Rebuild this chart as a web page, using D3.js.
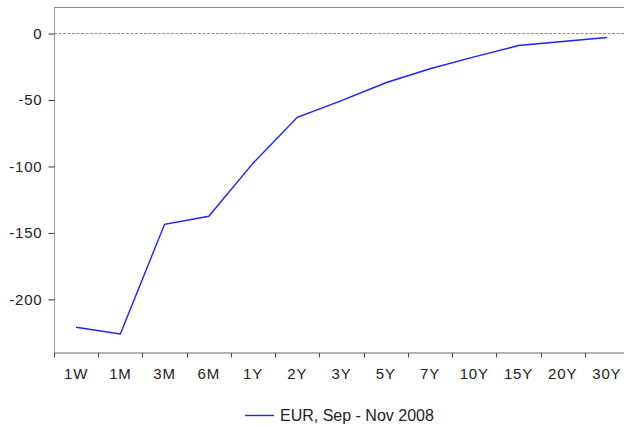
<!DOCTYPE html>
<html>
<head>
<meta charset="utf-8">
<script src="https://cdn.jsdelivr.net/npm/d3@7"></script>
<style>
  body { margin: 0; background: #fff; }
  svg { display: block; font-family: "Liberation Sans", Arial, sans-serif; }
</style>
</head>
<body>
<svg id="mainsvg" width="624" height="428"></svg>
<script>
// tenors on the x axis
let tenors = ["1W", "1M", "3M", "6M", "1Y", "2Y", "3Y", "5Y", "7Y", "10Y", "15Y", "20Y", "30Y"];
// spread change, EUR, Sep - Nov 2008
let eurValues = [-221, -226, -143.5, -137.5, -97.5, -63, -50.5, -37, -26.5, -17.5, -9, -6, -3];
let yTicks = [0, -50, -100, -150, -200];
let seriesName = "EUR, Sep - Nov 2008";

let svg = d3.select("#mainsvg");
let plotLeft = 54, plotRight = 629, plotTop = 7, plotBottom = 352.5;

let x = d3.scaleBand().domain(tenors).range([plotLeft, plotRight]).padding(0);
let y = d3.scaleLinear().domain([-240, 20]).range([plotBottom, plotTop]);

// frame: top line
svg.append("line")
    .attr("x1", plotLeft).attr("x2", 624)
    .attr("y1", plotTop + 0.5).attr("y2", plotTop + 0.5)
    .attr("stroke", "#8a8a8a").attr("stroke-width", 1);

// zero line
svg.append("line")
    .attr("x1", plotLeft).attr("x2", 624)
    .attr("y1", y(0)).attr("y2", y(0))
    .attr("stroke", "#8c8c8c").attr("stroke-width", 1)
    .attr("stroke-dasharray", "3,1.5");

// y axis (plain hyphen for negatives, like the original)
let yAxis = svg.append("g")
    .attr("transform", "translate(" + (plotLeft + 0.5) + ",0)")
    .call(d3.axisLeft(y).tickValues(yTicks).tickFormat(d => String(d))
        .tickSize(6).tickSizeOuter(0).tickPadding(6));
yAxis.select(".domain").attr("stroke", "#9a9a9a").attr("d", "M0," + plotTop + "V" + plotBottom);
yAxis.selectAll(".tick line").attr("stroke", "#333");
yAxis.selectAll(".tick text")
    .attr("font-size", "15px").attr("letter-spacing", "0.8px")
    .attr("font-family", "Liberation Sans, Arial, sans-serif")
    .attr("fill", "#222");

// x axis: labels at band centres, ticks at band edges
let xAxis = svg.append("g")
    .attr("transform", "translate(0," + (plotBottom + 0.5) + ")")
    .call(d3.axisBottom(x).tickSize(0).tickSizeOuter(0).tickPadding(15));
xAxis.select(".domain").attr("stroke", "#666").attr("d", "M" + plotLeft + ",0H624");
xAxis.selectAll(".tick text")
    .attr("font-size", "15px").attr("letter-spacing", "0.8px")
    .attr("font-family", "Liberation Sans, Arial, sans-serif")
    .attr("fill", "#222");

let edges = tenors.map(d => x(d)).concat([x.range()[1]]).filter(v => v <= 624);
xAxis.selectAll(".edge")
    .data(edges)
    .enter()
    .append("line")
    .attr("class", "edge")
    .attr("x1", d => Math.round(d) + 0.5).attr("x2", d => Math.round(d) + 0.5)
    .attr("y1", 0).attr("y2", 4.5)
    .attr("stroke", "#444");

// series line
let line = d3.line()
    .x((d, i) => x(tenors[i]) + x.bandwidth() / 2)
    .y(d => y(d));
svg.append("path")
    .datum(eurValues)
    .attr("d", line)
    .attr("fill", "none")
    .attr("stroke", "#1f1fff")
    .attr("stroke-width", 1.4);

// legend
let legend = svg.append("g").attr("transform", "translate(245,415.5)");
legend.append("line")
    .attr("x1", 0).attr("x2", 29)
    .attr("stroke", "#1f1fff").attr("stroke-width", 1.4);
legend.append("text")
    .attr("x", 35).attr("y", 0).attr("dy", "0.36em")
    .attr("font-size", "16px")
    .attr("fill", "#222")
    .text(seriesName);
</script>
</body>
</html>
